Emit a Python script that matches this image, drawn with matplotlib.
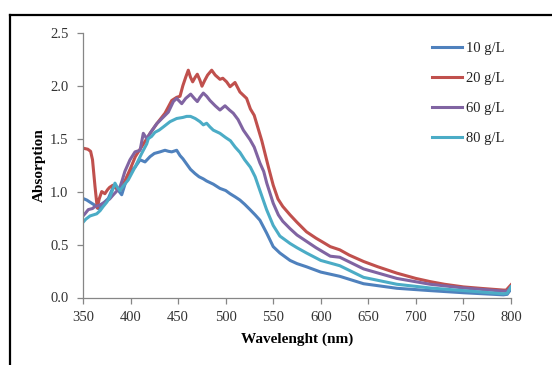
import matplotlib
matplotlib.use("Agg")
import matplotlib.pyplot as plt
from matplotlib.lines import Line2D

plt.rcParams['font.family'] = ['Liberation Serif', 'DejaVu Serif']

# ---- data ----
wl_10 = [350, 354, 357.4, 362.6, 366, 371.3, 376.6, 381.9, 385.4, 390.7, 395.9, 399.4, 404.7,
         410, 415.2, 420.5, 425, 431, 436.2, 440, 443.3, 448.5, 452, 455, 459, 463, 467.8, 472,
         476.5, 480, 487, 494, 500, 504.6, 510, 515, 520, 525.6, 531, 536, 543, 550, 557, 567.7,
         575, 585, 600, 610, 620, 645, 680, 715, 750, 792, 796, 800]
abs_10 = [0.935, 0.92, 0.90, 0.87, 0.84, 0.89, 0.935, 1.045, 1.03, 0.97, 1.12, 1.19, 1.23,
          1.30, 1.28, 1.33, 1.36, 1.375, 1.39, 1.38, 1.375, 1.39, 1.34, 1.31, 1.26, 1.21, 1.17, 1.14,
          1.12, 1.10, 1.07, 1.03, 1.01, 0.98, 0.95, 0.92, 0.88, 0.83, 0.78, 0.73, 0.61, 0.48, 0.42, 0.35,
          0.32, 0.29, 0.24, 0.22, 0.20, 0.13, 0.087, 0.065, 0.045, 0.025, 0.03, 0.08]

wl_20 = [350, 355, 358, 360, 362.6, 365, 367, 369.7, 373, 376, 378, 381.5, 385, 390, 395, 400,
         405, 410, 415, 420.5, 427.5, 436.2, 443.3, 448.5, 452, 455, 458, 460.7, 463, 465.3, 468,
         470.2, 473, 475.1, 478, 481, 485.3, 489, 494, 497, 501, 504.6, 509.8, 515, 522, 526, 530,
         538, 545, 550, 555, 560, 567.7, 575, 585, 595, 602.6, 610, 620, 630, 645, 660, 680, 700,
         715, 730, 750, 770, 792, 795, 800]
abs_20 = [1.41, 1.40, 1.38, 1.30, 1.05, 0.845, 0.93, 1.00, 0.98, 1.02, 1.04, 1.06, 1.03, 1.02, 1.12, 1.22,
          1.33, 1.40, 1.47, 1.55, 1.64, 1.74, 1.86, 1.89, 1.90, 2.00, 2.08, 2.146, 2.08, 2.036, 2.08,
          2.108, 2.05, 1.995, 2.05, 2.10, 2.146, 2.10, 2.06, 2.07, 2.036, 1.99, 2.03, 1.94, 1.88, 1.78, 1.72,
          1.48, 1.23, 1.06, 0.93, 0.86, 0.78, 0.71, 0.62, 0.56, 0.52, 0.48, 0.45, 0.40, 0.34, 0.29, 0.23, 0.18,
          0.15, 0.125, 0.10, 0.085, 0.07, 0.07, 0.12]

wl_60 = [350, 352, 355.6, 360, 362.6, 367, 373, 378, 381.9, 385, 388.9, 391, 394, 399.4, 404.7,
         410, 413.4, 417, 422, 427.5, 433, 439.7, 445, 448.5, 453.8, 458, 463.2, 467, 470.2, 473,
         476.5, 480, 483.5, 489, 494, 499.3, 504, 508, 513, 518.6, 525.6, 530, 536, 540, 543.2, 550,
         555.4, 560, 567.7, 575, 585, 595, 610, 620, 645, 680, 715, 750, 792, 796, 800]
abs_60 = [0.77, 0.79, 0.83, 0.84, 0.86, 0.87, 0.90, 0.93, 0.97, 1.00, 1.045, 1.10, 1.19, 1.30, 1.375,
          1.39, 1.55, 1.50, 1.57, 1.64, 1.69, 1.75, 1.85, 1.88, 1.83, 1.88, 1.92, 1.88, 1.85, 1.89,
          1.93, 1.90, 1.86, 1.81, 1.77, 1.81, 1.77, 1.74, 1.68, 1.58, 1.49, 1.42, 1.27, 1.19, 1.08, 0.89,
          0.78, 0.72, 0.65, 0.59, 0.53, 0.47, 0.39, 0.38, 0.27, 0.18, 0.125, 0.09, 0.06, 0.06, 0.10]

wl_80 = [350, 353, 357.4, 364.4, 368, 371.3, 375, 378.4, 383.6, 386, 388.9, 393, 397.6, 404.7,
         411.7, 417, 418.7, 422, 425.7, 430, 434.4, 441.5, 448.5, 455, 459, 463, 468, 473, 476.5,
         480, 483.5, 487, 494, 500, 505, 510, 515, 520, 526, 531, 536, 543, 550, 557, 567.7, 575,
         585, 600, 620, 645, 680, 715, 750, 792, 796, 800]
abs_80 = [0.71, 0.74, 0.77, 0.79, 0.82, 0.86, 0.90, 0.95, 1.08, 1.04, 1.01, 1.06, 1.11, 1.23,
          1.36, 1.45, 1.50, 1.52, 1.56, 1.58, 1.61, 1.66, 1.69, 1.70, 1.71, 1.71, 1.69, 1.66, 1.63,
          1.645, 1.61, 1.58, 1.55, 1.51, 1.48, 1.42, 1.37, 1.30, 1.23, 1.14, 1.01, 0.83, 0.68, 0.58, 0.51, 0.47,
          0.42, 0.35, 0.30, 0.19, 0.125, 0.09, 0.065, 0.035, 0.04, 0.10]

labels = ['10 g/L', '20 g/L', '60 g/L', '80 g/L']
colors = ['#4F81BD', '#C0504D', '#8064A2', '#4BACC6']

x_ticks = [350, 400, 450, 500, 550, 600, 650, 700, 750, 800]
y_ticks = [0.0, 0.5, 1.0, 1.5, 2.0, 2.5]

# ---- figure ----
W, H = 552, 365
fig = plt.figure(figsize=(W / 100, H / 100), dpi=100)
ax = fig.add_axes([83 / W, 1 - 297.5 / H, (511 - 83) / W, (297.5 - 32.7) / H])

series = [(wl_10, abs_10), (wl_20, abs_20), (wl_60, abs_60), (wl_80, abs_80)]
for (x, y), lab, c in zip(series, labels, colors):
    ax.plot(x, y, color=c, lw=2.2, label=lab, solid_joinstyle='round')

ax.set_xlim(350, 800)
ax.set_ylim(0, 2.5)
ax.set_xticks(x_ticks)
ax.set_yticks(y_ticks)
ax.set_yticklabels([f"{v:.1f}" for v in y_ticks])
for s in ['top', 'right']:
    ax.spines[s].set_visible(False)
for s in ['left', 'bottom']:
    ax.spines[s].set_color('#868686')
    ax.spines[s].set_linewidth(0.9)
ax.tick_params(direction='out', length=4, width=0.9, color='#868686',
               labelsize=10.5, labelcolor='#333333')
ax.tick_params(axis='x', pad=6)
ax.tick_params(axis='y', pad=6.5)

ax.set_xlabel('Wavelenght (nm)', fontsize=11, fontweight='bold', labelpad=6)
ax.set_ylabel('Absorption', fontsize=11, fontweight='bold', labelpad=3)

leg = ax.legend(loc='upper left', bbox_to_anchor=(432 / W, 1 - 42 / H),
                bbox_transform=fig.transFigure, frameon=False, fontsize=10.5,
                handlelength=2.05, handletextpad=0.25, labelspacing=1.15,
                borderaxespad=0, borderpad=0)
for t in leg.get_texts():
    t.set_color('#222222')

# border lines (top and left) of the cropped frame
fig.add_artist(Line2D([10 / W, 10 / W], [0, 1 - 14.5 / H], transform=fig.transFigure,
                      color='black', lw=1.6))
fig.add_artist(Line2D([9.5 / W, 1], [1 - 14.5 / H, 1 - 14.5 / H], transform=fig.transFigure,
                      color='black', lw=1.6))

fig.savefig('out.png', dpi=100)
